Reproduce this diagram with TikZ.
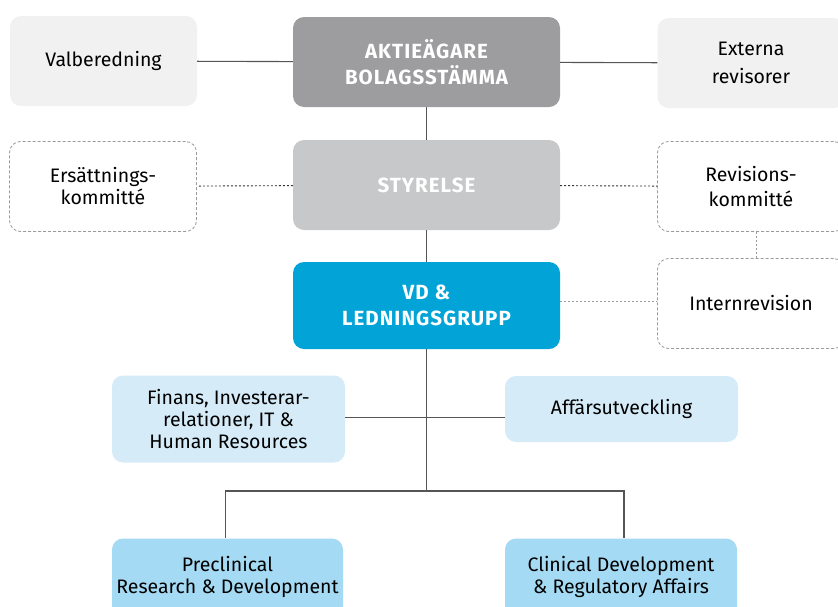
\documentclass[tikz,border=0pt]{standalone}
\usepackage{fontspec}
\setmainfont{Fira Sans}
\newfontfamily\headfont[LetterSpace=5]{Fira Sans Bold}
\definecolor{boxlight}{HTML}{F1F1F1}
\definecolor{boxdark}{HTML}{9D9D9F}
\definecolor{boxmid}{HTML}{C7C8CA}
\definecolor{boxblue}{HTML}{02A4D7}
\definecolor{boxpale}{HTML}{D5EBF8}
\definecolor{boxsky}{HTML}{A4DAF3}
\definecolor{linedark}{HTML}{555555}
\definecolor{dashgray}{HTML}{9A9A9A}
\tikzset{
  box/.style={rounded corners=11pt, align=center, inner sep=2pt, font=\fontsize{19.5}{22}\selectfont},
  lightbox/.style={box, fill=boxlight, minimum width=187pt, minimum height=90pt},
  dashbox/.style={box, draw=dashgray, densely dashed, line width=0.8pt, minimum width=187pt, minimum height=90pt},
  headbox/.style={box, text=white, minimum width=267pt, minimum height=90pt, font=\headfont\fontsize{20.5}{25.5}\selectfont},
  unitbox/.style={box, minimum width=233pt, minimum height=87pt},
  conn/.style={draw=linedark, line width=1.1pt},
  dotconn/.style={draw=black!80, line width=0.9pt, dash pattern=on 2pt off 2pt},
  lightdot/.style={draw=dashgray, line width=0.9pt, dash pattern=on 2pt off 2pt},
}
\begin{document}
\begin{tikzpicture}[x=1pt,y=-1pt]
\useasboundingbox (0,0) rectangle (838,606);
\clip (0,0) rectangle (838,606);
\node[lightbox] (val) at (103.5,61) {Valberedning};
\node[headbox, fill=boxdark] (akt) at (426.5,62) {AKTIEÄGARE\\BOLAGSSTÄMMA};
\node[lightbox, font=\fontsize{19.5}{28}\selectfont] (ext) at (751,63) {Externa\\revisorer};
\node[dashbox] (ers) at (103,186.5) {Ersättnings-\\kommitté};
\node[headbox, fill=boxmid] (sty) at (426.5,185) {STYRELSE};
\node[dashbox, font=\fontsize{19.5}{25}\selectfont] (rev) at (751,186.5) {Revisions-\\kommitté};
\node[headbox, fill=boxblue, minimum height=87pt] (vd) at (426.5,305.5) {VD \&\\LEDNINGSGRUPP};
\node[dashbox] (int) at (751,303.5) {Internrevision};
\node[unitbox, fill=boxpale] (fin) at (228.5,419) {Finans, Investerar-\\relationer, IT \&\\Human Resources};
\node[unitbox, fill=boxpale, minimum height=66pt] (aff) at (621.5,409) {Affärsutveckling};
\node[unitbox, fill=boxsky, minimum width=231pt, text depth=14pt] (pre) at (227.5,582) {Preclinical\\Research \& Development};
\node[unitbox, fill=boxsky, minimum width=232pt, text depth=14pt] (cli) at (621,582) {Clinical Development\\\& Regulatory Affairs};
\coordinate (j) at (426.5,491);
\path[conn] (val) -- (akt);
\path[conn] (akt) -- (ext);
\path[conn] (akt.south) -- (sty.north);
\path[conn] (sty.south) -- (vd.north);
\path[conn] (vd.south) -- (j);
\path[conn] ([yshift=1.5pt]fin.east) -- ([yshift=1.5pt]fin.east -| aff.west);
\path[conn] (j) -| ([xshift=-2pt]pre.north);
\path[conn] (j) -| ([xshift=3pt]cli.north);
\path[dotconn] (sty) -- (ers);
\path[dotconn] (sty) -- (rev);
\path[lightdot] ([xshift=5pt]rev.south) -- ([xshift=5pt]int.north);
\path[lightdot] ([yshift=4pt]vd.east) -- ([yshift=4pt]vd.east -| int.west);
\end{tikzpicture}
\end{document}
